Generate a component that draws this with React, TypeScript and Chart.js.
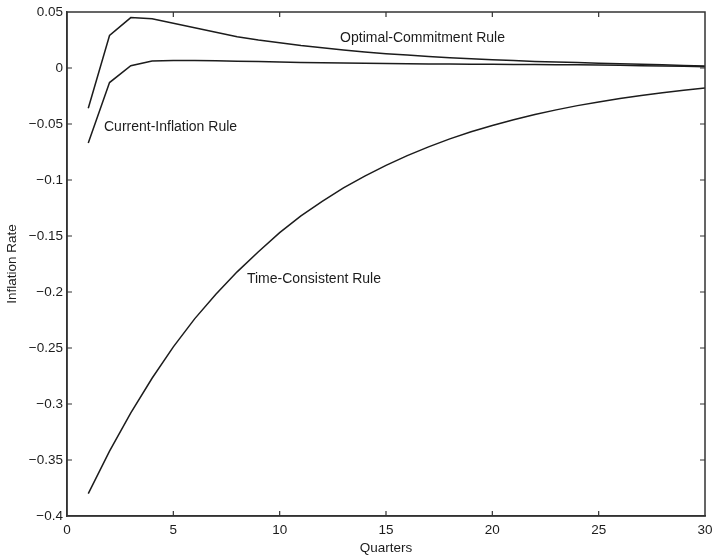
import React, { useEffect, useRef } from "react";
import { Chart, registerables } from "chart.js";

Chart.register(...registerables);

const quarters = [1, 2, 3, 4, 5, 6, 7, 8, 9, 10, 11, 12, 13, 14, 15, 16, 17, 18, 19, 20, 21, 22, 23, 24, 25, 26, 27, 28, 29, 30];

const optimalCommitment = [
  -0.036, 0.029, 0.045, 0.044, 0.040, 0.036, 0.032, 0.028, 0.025, 0.0225,
  0.020, 0.018, 0.016, 0.0143, 0.0128, 0.0115, 0.0103, 0.0092, 0.0083, 0.0074,
  0.0066, 0.0059, 0.0053, 0.0048, 0.0043, 0.0038, 0.0033, 0.0028, 0.0023, 0.0018,
];

const currentInflation = [
  -0.067, -0.013, 0.002, 0.0062, 0.0068, 0.0067, 0.0064, 0.006, 0.0057, 0.0054,
  0.005, 0.0047, 0.0044, 0.0042, 0.004, 0.0038, 0.0036, 0.0035, 0.0034, 0.0033,
  0.0032, 0.0031, 0.003, 0.0028, 0.0026, 0.0024, 0.0021, 0.0018, 0.0015, 0.0012,
];

const timeConsistent = [
  -0.380, -0.342, -0.308, -0.277, -0.249, -0.224, -0.202, -0.182, -0.164, -0.147,
  -0.132, -0.119, -0.107, -0.0965, -0.0869, -0.0782, -0.0704, -0.0633, -0.0570, -0.0513,
  -0.0462, -0.0415, -0.0374, -0.0336, -0.0303, -0.0273, -0.0245, -0.0221, -0.0199, -0.0179,
];

const annotations = [
  { text: "Optimal-Commitment Rule", x: 12.84, y: 0.0268 },
  { text: "Current-Inflation Rule", x: 1.74, y: -0.0527 },
  { text: "Time-Consistent Rule", x: 8.46, y: -0.1884 },
];

const FONT = "'Liberation Sans', Arial, Helvetica, sans-serif";
const INK = "#1c1c1c";
const TICK_SIZE = 13.5;

const fmt = (v: number) => {
  const r = Math.round(v * 100) / 100;
  const s = String(r);
  return s.replace("-", "\u2212");
};

const innerTicks = {
  id: "innerTicks",
  afterDraw(chart: any) {
    const { ctx, chartArea, scales } = chart;
    const len = 5;
    ctx.save();
    ctx.strokeStyle = "#333";
    ctx.lineWidth = 1.2;
    ctx.beginPath();
    scales.x.ticks.forEach((t: any) => {
      const px = scales.x.getPixelForValue(t.value);
      if (px <= chartArea.left + 1 || px >= chartArea.right - 1) return;
      ctx.moveTo(px, chartArea.bottom);
      ctx.lineTo(px, chartArea.bottom - len);
      ctx.moveTo(px, chartArea.top);
      ctx.lineTo(px, chartArea.top + len);
    });
    scales.y.ticks.forEach((t: any) => {
      const py = scales.y.getPixelForValue(t.value);
      if (py <= chartArea.top + 1 || py >= chartArea.bottom - 1) return;
      ctx.moveTo(chartArea.left, py);
      ctx.lineTo(chartArea.left + len, py);
      ctx.moveTo(chartArea.right, py);
      ctx.lineTo(chartArea.right - len, py);
    });
    ctx.stroke();
    ctx.strokeStyle = "#333";
    ctx.lineWidth = 1.5;
    ctx.strokeRect(chartArea.left, chartArea.top, chartArea.right - chartArea.left, chartArea.bottom - chartArea.top);
    ctx.fillStyle = INK;
    ctx.font = `14px ${FONT}`;
    ctx.textAlign = "left";
    ctx.textBaseline = "middle";
    annotations.forEach((a) => {
      ctx.fillText(a.text, scales.x.getPixelForValue(a.x), scales.y.getPixelForValue(a.y));
    });
    ctx.restore();
  },
};

export default function App() {
  const ref = useRef<HTMLCanvasElement | null>(null);
  useEffect(() => {
    if (!ref.current) return;
    const mk = (vals: number[]) => quarters.map((q, i) => ({ x: q, y: vals[i] }));
    const ds = (label: string, vals: number[]) => ({
      label,
      data: mk(vals),
      borderColor: INK,
      borderWidth: 1.5,
      pointRadius: 0,
      tension: 0,
      fill: false,
    });
    const chart = new Chart(ref.current, {
      type: "line",
      data: {
        datasets: [
          ds("Optimal-Commitment Rule", optimalCommitment),
          ds("Current-Inflation Rule", currentInflation),
          ds("Time-Consistent Rule", timeConsistent),
        ],
      },
      options: {
        animation: false,
        responsive: true,
        maintainAspectRatio: false,
        layout: { padding: { top: 12, right: 8, left: 0, bottom: 0 } },
        plugins: { legend: { display: false }, tooltip: { enabled: false } },
        scales: {
          x: {
            type: "linear",
            min: 0,
            max: 30,
            grid: { display: false, drawTicks: false, tickLength: 0 },
            border: { display: true, color: "#333", width: 1.5 },
            ticks: {
              stepSize: 5,
              padding: 6,
              maxRotation: 0,
              autoSkip: false,
              color: INK,
              font: { family: FONT, size: TICK_SIZE },
              callback: (v: any) => fmt(Number(v)),
            },
            title: {
              display: true,
              text: "Quarters",
              color: INK,
              font: { family: FONT, size: TICK_SIZE },
              padding: { top: 0, bottom: 0 },
            },
            afterFit: (s: any) => {
              s.height = 40;
              s.paddingLeft = 0;
              s.paddingRight = 0;
            },
          },
          y: {
            type: "linear",
            min: -0.4,
            max: 0.05,
            grid: { display: false, drawTicks: false, tickLength: 0 },
            border: { display: true, color: "#333", width: 1.5 },
            ticks: {
              stepSize: 0.05,
              padding: 4,
              autoSkip: false,
              color: INK,
              font: { family: FONT, size: TICK_SIZE },
              callback: (v: any) => fmt(Number(v)),
            },
            title: {
              display: true,
              text: "Inflation Rate",
              color: INK,
              font: { family: FONT, size: TICK_SIZE },
              padding: { top: 4, bottom: 0 },
            },
            afterFit: (s: any) => {
              s.width = 67;
              s.paddingTop = 0;
              s.paddingBottom = 0;
            },
          },
        },
      },
      plugins: [innerTicks],
    } as any);
    return () => chart.destroy();
  }, []);
  return (
    <div style={{ position: "fixed", left: 0, top: 0, width: 713, height: 556, background: "#fff" }}>
      <canvas ref={ref} />
    </div>
  );
}
